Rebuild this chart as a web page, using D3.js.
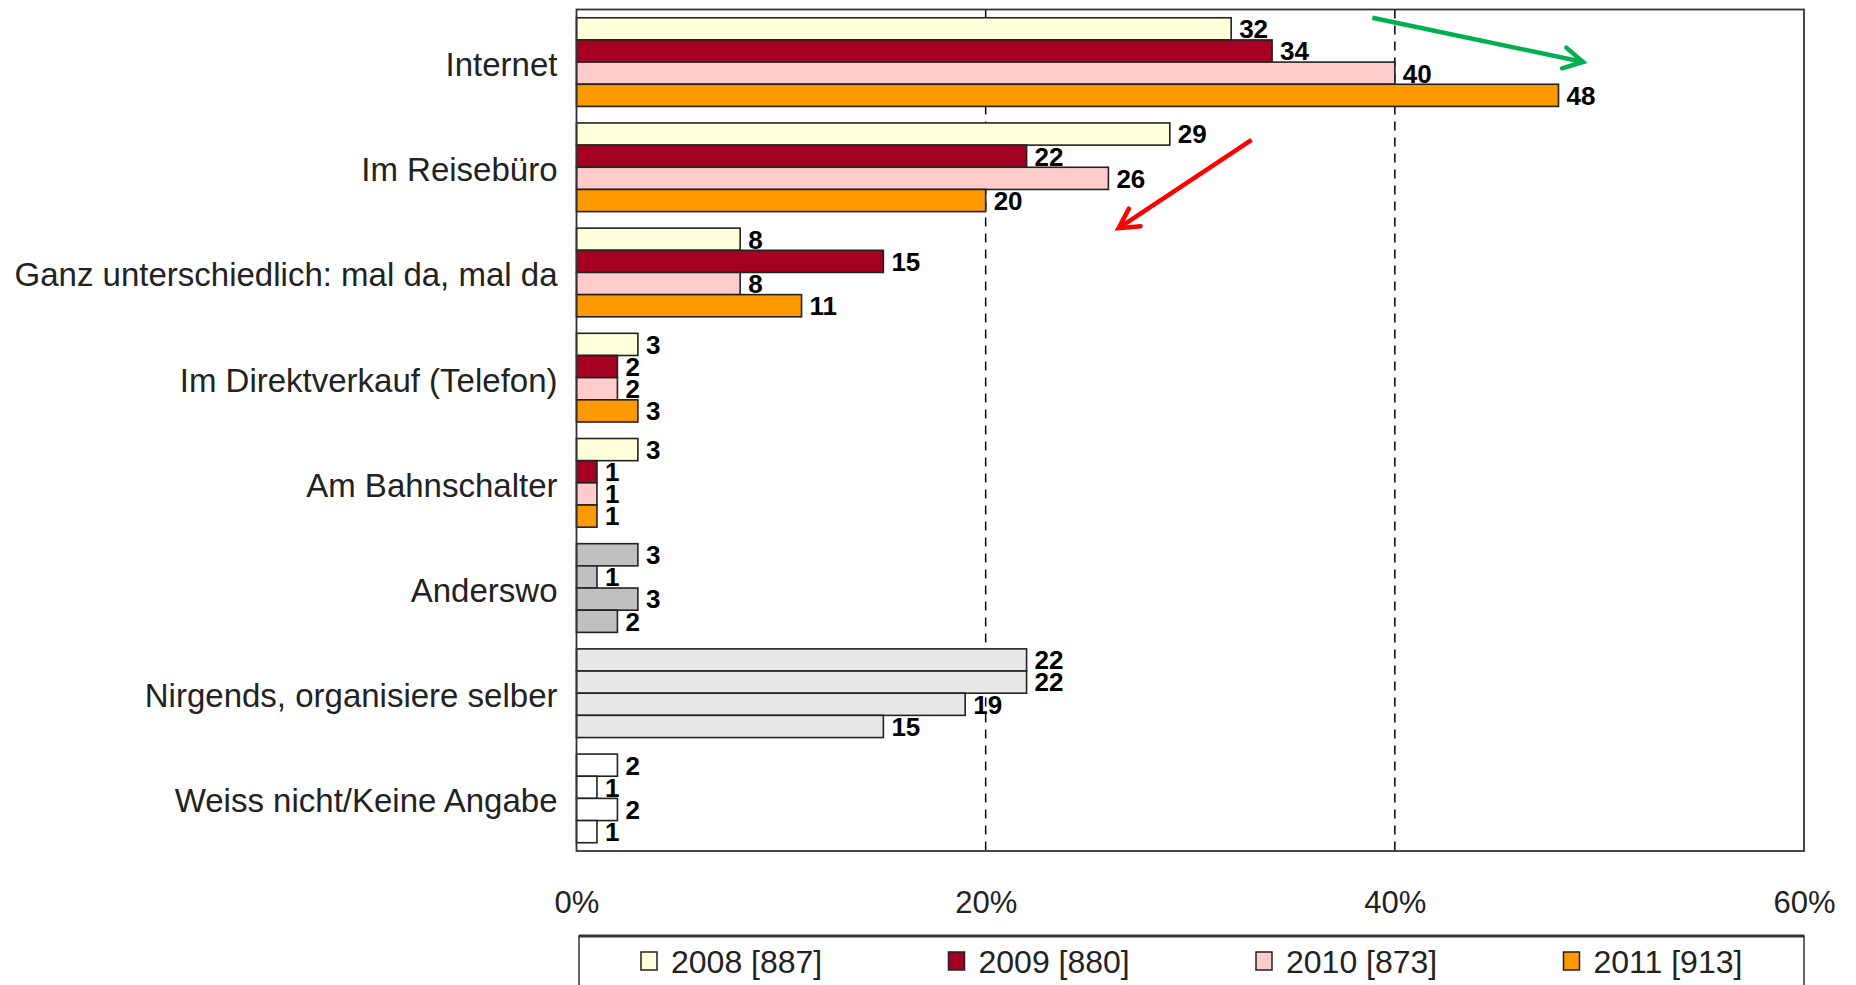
<!DOCTYPE html>
<html><head><meta charset="utf-8">
<script src="https://cdn.jsdelivr.net/npm/d3@7"></script>
<style>
html,body{margin:0;padding:0;background:#fff;}
svg{display:block;font-family:"Liberation Sans",Arial,sans-serif;}
</style></head>
<body>
<svg id="chart" width="1856" height="985"></svg>
<script>
const categories = ["Internet","Im Reisebüro","Ganz unterschiedlich: mal da, mal da","Im Direktverkauf (Telefon)","Am Bahnschalter","Anderswo","Nirgends, organisiere selber","Weiss nicht/Keine Angabe"];
const seriesNames = ["2008 [887]","2009 [880]","2010 [873]","2011 [913]"];
const v2008 = [32,29,8,3,3,3,22,2];
const v2009 = [34,22,15,2,1,1,22,1];
const v2010 = [40,26,8,2,1,3,19,2];
const v2011 = [48,20,11,3,1,2,15,1];
const seriesColors = ["#FFFFD9","#A50021","#FFCCCC","#FF9900"];
const categoryOverride = [null,null,null,null,null,"#C0C0C0","#E8E8E8","#FFFFFF"];
const xTicks = [0,20,40,60];
// arrows: [category, fraction of band step, value%]
const arrows = [
  {color:"#00B050", from:["Internet",0.0,38.9], to:["Internet",0.42,49.2]},
  {color:"#FF0000", from:["Im Reisebüro",0.16,33.0], to:["Ganz unterschiedlich: mal da, mal da",0.0,26.5]}
];

const series = [v2008,v2009,v2010,v2011];
const svg = d3.select("#chart");
const L = 576.5, R = 1804, T = 9.5, B = 851;

const x = d3.scaleLinear().domain([0,60]).range([L,R]);
const y = d3.scaleBand().domain(categories).range([T,B]).paddingInner(0.157).paddingOuter(0.0785);
const yi = d3.scaleBand().domain(d3.range(4)).range([0,y.bandwidth()]);

// dashed grid
svg.append("g").selectAll("line").data(xTicks.filter(t=>t>0&&t<60)).join("line")
  .attr("x1",d=>x(d)).attr("x2",d=>x(d)).attr("y1",T).attr("y2",B)
  .attr("stroke","#000").attr("stroke-width",1.5).attr("stroke-dasharray","9,7");

// bars
const rows = [];
categories.forEach((c,ci)=>series.forEach((s,si)=>rows.push({c,ci,si,v:s[ci]})));
const g = svg.append("g");
g.selectAll("rect").data(rows).join("rect")
  .attr("x",x(0)).attr("y",d=>y(d.c)+yi(d.si))
  .attr("width",d=>x(d.v)-x(0)).attr("height",yi.bandwidth())
  .attr("fill",d=>categoryOverride[d.ci]||seriesColors[d.si])
  .attr("stroke","#222").attr("stroke-width",1.6);

g.selectAll("text").data(rows).join("text")
  .attr("x",d=>x(d.v)+8).attr("y",d=>y(d.c)+yi(d.si)+yi.bandwidth()/2)
  .attr("dy","0.36em").attr("font-size",26).attr("font-weight","bold")
  .attr("fill","#000").text(d=>d.v);

// frame
svg.append("rect").attr("x",L).attr("y",T).attr("width",R-L).attr("height",B-T)
  .attr("fill","none").attr("stroke","#333").attr("stroke-width",1.8);

// category labels
svg.append("g").selectAll("text").data(categories).join("text")
  .attr("x",L-19).attr("y",d=>y(d)+y.bandwidth()/2+2).attr("dy","0.36em")
  .attr("text-anchor","end").attr("font-size",33).attr("fill","#222").text(d=>d);

// x axis tick labels
const xAxis = d3.axisBottom(x).tickValues(xTicks).tickFormat(d=>d+"%").tickSize(0).tickPadding(0);
const ax = svg.append("g").attr("transform",`translate(0,${B+40})`).call(xAxis);
ax.select(".domain").remove();
ax.selectAll("text").attr("font-size",31).attr("font-family","'Liberation Sans',Arial,sans-serif").attr("fill","#222");

// arrows
const ap = a => [x(a[2]), y(a[0]) + a[1]*y.step()];
arrows.forEach(a=>{
  const [x1,y1] = ap(a.from), [x2,y2] = ap(a.to);
  const ang = Math.atan2(y2-y1,x2-x1), hl = 22, spread = 0.5;
  svg.append("line").attr("x1",x1).attr("y1",y1).attr("x2",x2).attr("y2",y2)
    .attr("stroke",a.color).attr("stroke-width",4.5);
  const p1 = [x2-hl*Math.cos(ang-spread), y2-hl*Math.sin(ang-spread)];
  const p2 = [x2-hl*Math.cos(ang+spread), y2-hl*Math.sin(ang+spread)];
  svg.append("polyline").attr("points",[p1,[x2,y2],p2].map(p=>p.join(",")).join(" "))
    .attr("fill","none").attr("stroke",a.color).attr("stroke-width",4.5).attr("stroke-linecap","round");
});

// legend
const lg = svg.append("g");
lg.append("rect").attr("x",579).attr("y",936).attr("width",1804-579).attr("height",70)
  .attr("fill","#fff").attr("stroke","#333").attr("stroke-width",1.5);
lg.append("line").attr("x1",579).attr("x2",1804).attr("y1",936).attr("y2",936).attr("stroke","#333").attr("stroke-width",3);
const li = lg.selectAll("g.item").data(seriesNames).join("g").attr("class","item")
  .attr("transform",(d,i)=>`translate(${641+i*307.5},961)`);
li.append("rect").attr("x",0).attr("y",-9).attr("width",16).attr("height",18)
  .attr("fill",(d,i)=>seriesColors[i]).attr("stroke","#222").attr("stroke-width",1.5);
li.append("text").attr("x",30).attr("y",0).attr("dy","0.36em").attr("font-size",32).attr("fill","#222").text(d=>d);
</script>
</body></html>
